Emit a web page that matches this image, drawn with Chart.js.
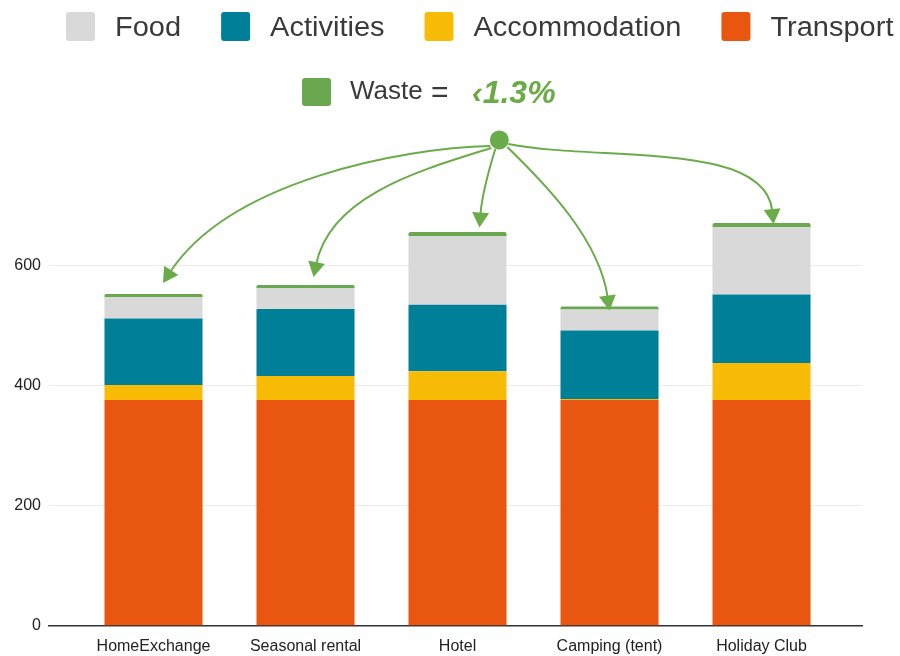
<!DOCTYPE html>
<html>
<head>
<meta charset="utf-8">
<script src="https://cdn.jsdelivr.net/npm/chart.js@4.4.1/dist/chart.umd.min.js"></script>
<style>
  html, body { margin: 0; padding: 0; background: #ffffff; }
  #wrap { width: 900px; height: 656px; position: relative; }
</style>
</head>
<body>
<div id="wrap"><canvas id="chart" width="900" height="656"></canvas></div>
<script>
// Carbon footprint per stay type, stacked by source
const categories    = ['HomeExchange', 'Seasonal rental', 'Hotel', 'Camping (tent)', 'Holiday Club'];
const transport     = [376, 376, 376, 376, 376];
const accommodation = [25, 40, 48, 2, 62];
const activities    = [111, 112, 111, 114, 114];
const food          = [36, 35, 114, 35, 112];
const waste         = [5, 5, 7, 5, 7];
const yTicks        = [0, 200, 400, 600];
const wasteShare    = '‹1.3%';

const COLORS = {
  transport: '#e8560f',
  accommodation: '#f9bc06',
  activities: '#007f99',
  food: '#d9d9d9',
  waste: '#6aa84f'
};

const toPoints = arr => arr.map((v, i) => ({ x: i, y: v }));

// slightly flattened text for the legend lettering
function squeezedText(ctx, text, x, y, sy) {
  ctx.save();
  ctx.translate(x, y);
  ctx.scale(1, sy);
  ctx.fillText(text, 0, 0);
  ctx.restore();
}

// Legend rows drawn above the plot
const legendPlugin = {
  id: 'topLegend',
  afterDraw(chart) {
    const ctx = chart.ctx;
    const order = ['Food', 'Activities', 'Accommodation', 'Transport'];
    const sets = chart.data.datasets;
    ctx.save();
    ctx.font = '29px "Liberation Sans", Arial, sans-serif';
    ctx.textBaseline = 'alphabetic';
    let x = 66;
    order.forEach(name => {
      const ds = sets.find(d => d.label === name);
      ctx.fillStyle = ds.backgroundColor;
      ctx.beginPath();
      ctx.roundRect(x, 12, 29, 29, 3);
      ctx.fill();
      ctx.fillStyle = '#3a3a3a';
      squeezedText(ctx, name, x + 49, 36, 0.95);
      x += 49 + ctx.measureText(name).width + 40;
    });

    // second row: waste
    const w = sets.find(d => d.label === 'Waste');
    ctx.fillStyle = w.backgroundColor;
    ctx.beginPath();
    ctx.roundRect(302, 78, 29, 28, 3);
    ctx.fill();
    ctx.fillStyle = '#3a3a3a';
    ctx.font = '26px "Liberation Sans", Arial, sans-serif';
    squeezedText(ctx, 'Waste', 350, 99, 0.96);
    ctx.font = '30px "Liberation Sans", Arial, sans-serif';
    ctx.fillText('=', 431, 102);
    ctx.font = 'italic bold 32px "Liberation Sans", Arial, sans-serif';
    ctx.fillStyle = '#6aab46';
    ctx.fillText(wasteShare, 472, 103);
    ctx.restore();
  }
};

// Curved arrows from a single dot down to the top of every stack
const arrowPlugin = {
  id: 'wasteArrows',
  afterDatasetsDraw(chart) {
    const ctx = chart.ctx;
    const xs = chart.scales.x;
    const meta = chart.getDatasetMeta(chart.data.datasets.length - 1);
    const spacing = xs.getPixelForValue(1) - xs.getPixelForValue(0);
    const dot = { x: xs.getPixelForValue(2) + spacing * 0.275, y: 140 };
    // geometry of each arrow: start offset from dot, tip offset from bar top,
    // first control relative to start, second control relative to tip
    const shapes = [
      { s: [-9, 6],  t: [9.5, -11], c1: [-89, 2],  c2: [67, -102] },
      { s: [-8, 8],  t: [8, -8],    c1: [-70, 22], c2: [17, -82] },
      { s: [-4, 9],  t: [22, -4.5], c1: [-8, 26],  c2: [2, -28] },
      { s: [8, 7],   t: [0, 4],     c1: [39, 38],  c2: [-10, -71] },
      { s: [9, 4],   t: [12, 1],    c1: [92, 18],  c2: [-8, -84] }
    ];
    const col = '#6aab4a';
    ctx.save();
    ctx.strokeStyle = col;
    ctx.fillStyle = col;
    ctx.lineWidth = 2;
    shapes.forEach((sh, i) => {
      const bar = meta.data[i];
      const p0 = { x: dot.x + sh.s[0], y: dot.y + sh.s[1] };
      const p3 = { x: bar.x + sh.t[0], y: bar.y + sh.t[1] };
      const p1 = { x: p0.x + sh.c1[0], y: p0.y + sh.c1[1] };
      const p2 = { x: p3.x + sh.c2[0], y: p3.y + sh.c2[1] };
      // direction at the tip
      let dx = p3.x - p2.x, dy = p3.y - p2.y;
      const len = Math.hypot(dx, dy);
      dx /= len; dy /= len;
      const headLen = 15, headHalf = 8.5;
      const base = { x: p3.x - dx * headLen, y: p3.y - dy * headLen };
      ctx.beginPath();
      ctx.moveTo(p0.x, p0.y);
      ctx.bezierCurveTo(p1.x, p1.y, p2.x, p2.y, base.x + dx * 2, base.y + dy * 2);
      ctx.stroke();
      ctx.beginPath();
      ctx.moveTo(p3.x, p3.y);
      ctx.lineTo(base.x - dy * headHalf, base.y + dx * headHalf);
      ctx.lineTo(base.x + dy * headHalf, base.y - dx * headHalf);
      ctx.closePath();
      ctx.fill();
    });
    ctx.beginPath();
    ctx.arc(dot.x, dot.y, 9.5, 0, Math.PI * 2);
    ctx.fill();
    ctx.restore();
  }
};

new Chart(document.getElementById('chart'), {
  type: 'bar',
  data: {
    datasets: [
      { label: 'Transport',     data: toPoints(transport),     backgroundColor: COLORS.transport },
      { label: 'Accommodation', data: toPoints(accommodation), backgroundColor: COLORS.accommodation },
      { label: 'Activities',    data: toPoints(activities),    backgroundColor: COLORS.activities },
      { label: 'Food',          data: toPoints(food),          backgroundColor: COLORS.food },
      { label: 'Waste',         data: toPoints(waste),         backgroundColor: COLORS.waste,
        borderRadius: { topLeft: 2, topRight: 2, bottomLeft: 0, bottomRight: 0 }, borderSkipped: 'bottom' }
    ]
  },
  options: {
    responsive: false,
    animation: false,
    devicePixelRatio: 1,
    layout: { padding: { top: 205.7, right: 38, bottom: 0, left: 0 } },
    datasets: { bar: { barPercentage: 0.645, categoryPercentage: 1 } },
    plugins: { legend: { display: false }, tooltip: { enabled: false } },
    scales: {
      x: {
        type: 'linear',
        stacked: true,
        min: -0.6875,
        max: 4.661,
        offset: false,
        grid: { display: false, drawTicks: false },
        border: { display: true, color: '#333333', width: 1.5 },
        afterBuildTicks: scale => { scale.ticks = categories.map((_, i) => ({ value: i })); },
        afterFit: scale => { scale.height = 30.3; },
        ticks: {
          autoSkip: false,
          maxRotation: 0,
          padding: 11,
          color: '#222222',
          font: { family: '"Liberation Sans", Arial, sans-serif', size: 16 },
          callback: v => categories[v]
        }
      },
      y: {
        stacked: true,
        min: 0,
        max: 700,
        grid: { color: '#ebebeb', lineWidth: 1, drawTicks: false },
        border: { display: false },
        afterBuildTicks: scale => { scale.ticks = yTicks.map(v => ({ value: v })); },
        afterFit: scale => { scale.width = 49; },
        ticks: {
          padding: 8,
          color: '#222222',
          font: { family: '"Liberation Sans", Arial, sans-serif', size: 16 }
        }
      }
    }
  },
  plugins: [legendPlugin, arrowPlugin]
});
</script>
</body>
</html>
